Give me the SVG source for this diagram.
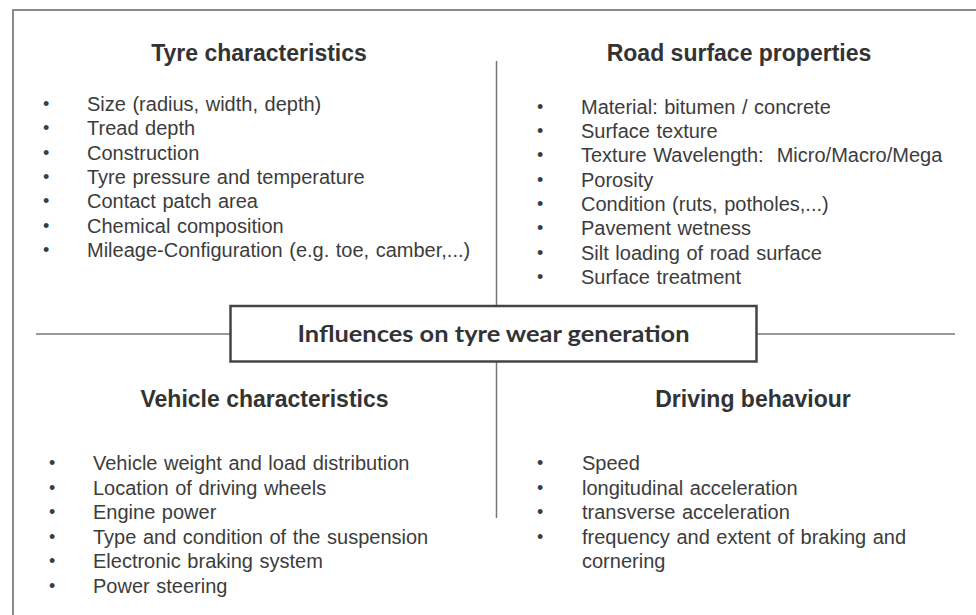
<svg xmlns="http://www.w3.org/2000/svg" width="976" height="615" viewBox="0 0 976 615">
<style>
.title{font-family:"Liberation Sans",Arial,sans-serif;font-size:23px;font-weight:bold;fill:#333;text-anchor:middle}
.item{font-family:"Liberation Sans",Arial,sans-serif;font-size:20px;fill:#3c3c3c;word-spacing:1px}
.b{font-size:18px}
.center{font-family:Lato,"Open Sans",sans-serif;font-size:22px;font-weight:bold;fill:#333;text-anchor:middle}
.div{stroke:#777;stroke-width:1.5;fill:none}
</style>
<rect x="0" y="0" width="976" height="615" fill="#fff"/>
<rect x="13" y="10" width="1000" height="700" fill="none" stroke="#8a8a8a" stroke-width="2"/>
<g id="connectors">
<line class="div" x1="496.5" y1="61" x2="496.5" y2="306"/>
<line class="div" x1="496.5" y1="361" x2="496.5" y2="518"/>
<line class="div" x1="36" y1="334" x2="230" y2="334"/>
<line class="div" x1="757" y1="334" x2="955" y2="334"/>
</g>
<g id="center-node">
<rect x="230.5" y="306" width="526" height="55.5" fill="#fff" stroke="#444" stroke-width="2.5"/>
<text class="center" x="493.5" y="342" textLength="392" lengthAdjust="spacingAndGlyphs">Influences on tyre wear generation</text>
</g>
<g id="tyre">
<text class="title" x="259" y="61">Tyre characteristics</text>
<g class="item">
<text class="b" x="43" y="110">•</text><text x="87" y="111">Size (radius, width, depth)</text>
<text class="b" x="43" y="134.3">•</text><text x="87" y="135.3">Tread depth</text>
<text class="b" x="43" y="158.6">•</text><text x="87" y="159.6">Construction</text>
<text class="b" x="43" y="183">•</text><text x="87" y="184">Tyre pressure and temperature</text>
<text class="b" x="43" y="207.3">•</text><text x="87" y="208.3">Contact patch area</text>
<text class="b" x="43" y="231.6">•</text><text x="87" y="232.6">Chemical composition</text>
<text class="b" x="43" y="256">•</text><text x="87" y="257">Mileage-Configuration (e.g. toe, camber,...)</text>
</g>
</g>
<g id="road">
<text class="title" x="739" y="61">Road surface properties</text>
<g class="item">
<text class="b" x="537" y="112.5">•</text><text x="581" y="113.5">Material: bitumen / concrete</text>
<text class="b" x="537" y="136.9">•</text><text x="581" y="137.9">Surface texture</text>
<text class="b" x="537" y="161.3">•</text><text x="581" y="162.3" xml:space="preserve" style="white-space:pre">Texture Wavelength:  Micro/Macro/Mega</text>
<text class="b" x="537" y="185.7">•</text><text x="581" y="186.7">Porosity</text>
<text class="b" x="537" y="210">•</text><text x="581" y="211">Condition (ruts, potholes,...)</text>
<text class="b" x="537" y="234.4">•</text><text x="581" y="235.4">Pavement wetness</text>
<text class="b" x="537" y="258.8">•</text><text x="581" y="259.8">Silt loading of road surface</text>
<text class="b" x="537" y="283.2">•</text><text x="581" y="284.2">Surface treatment</text>
</g>
</g>
<g id="vehicle">
<text class="title" x="264.5" y="407">Vehicle characteristics</text>
<g class="item">
<text class="b" x="49" y="469">•</text><text x="93" y="470">Vehicle weight and load distribution</text>
<text class="b" x="49" y="493.5">•</text><text x="93" y="494.5">Location of driving wheels</text>
<text class="b" x="49" y="518">•</text><text x="93" y="519">Engine power</text>
<text class="b" x="49" y="542.5">•</text><text x="93" y="543.5">Type and condition of the suspension</text>
<text class="b" x="49" y="567">•</text><text x="93" y="568">Electronic braking system</text>
<text class="b" x="49" y="591.5">•</text><text x="93" y="592.5">Power steering</text>
</g>
</g>
<g id="driving">
<text class="title" x="753" y="407">Driving behaviour</text>
<g class="item">
<text class="b" x="537" y="469">•</text><text x="582" y="470">Speed</text>
<text class="b" x="537" y="493.5">•</text><text x="582" y="494.5">longitudinal acceleration</text>
<text class="b" x="537" y="518">•</text><text x="582" y="519">transverse acceleration</text>
<text class="b" x="537" y="542.5">•</text><text x="582" y="543.5">frequency and extent of braking and</text>
<text x="582" y="568">cornering</text>
</g>
</g>
</svg>
